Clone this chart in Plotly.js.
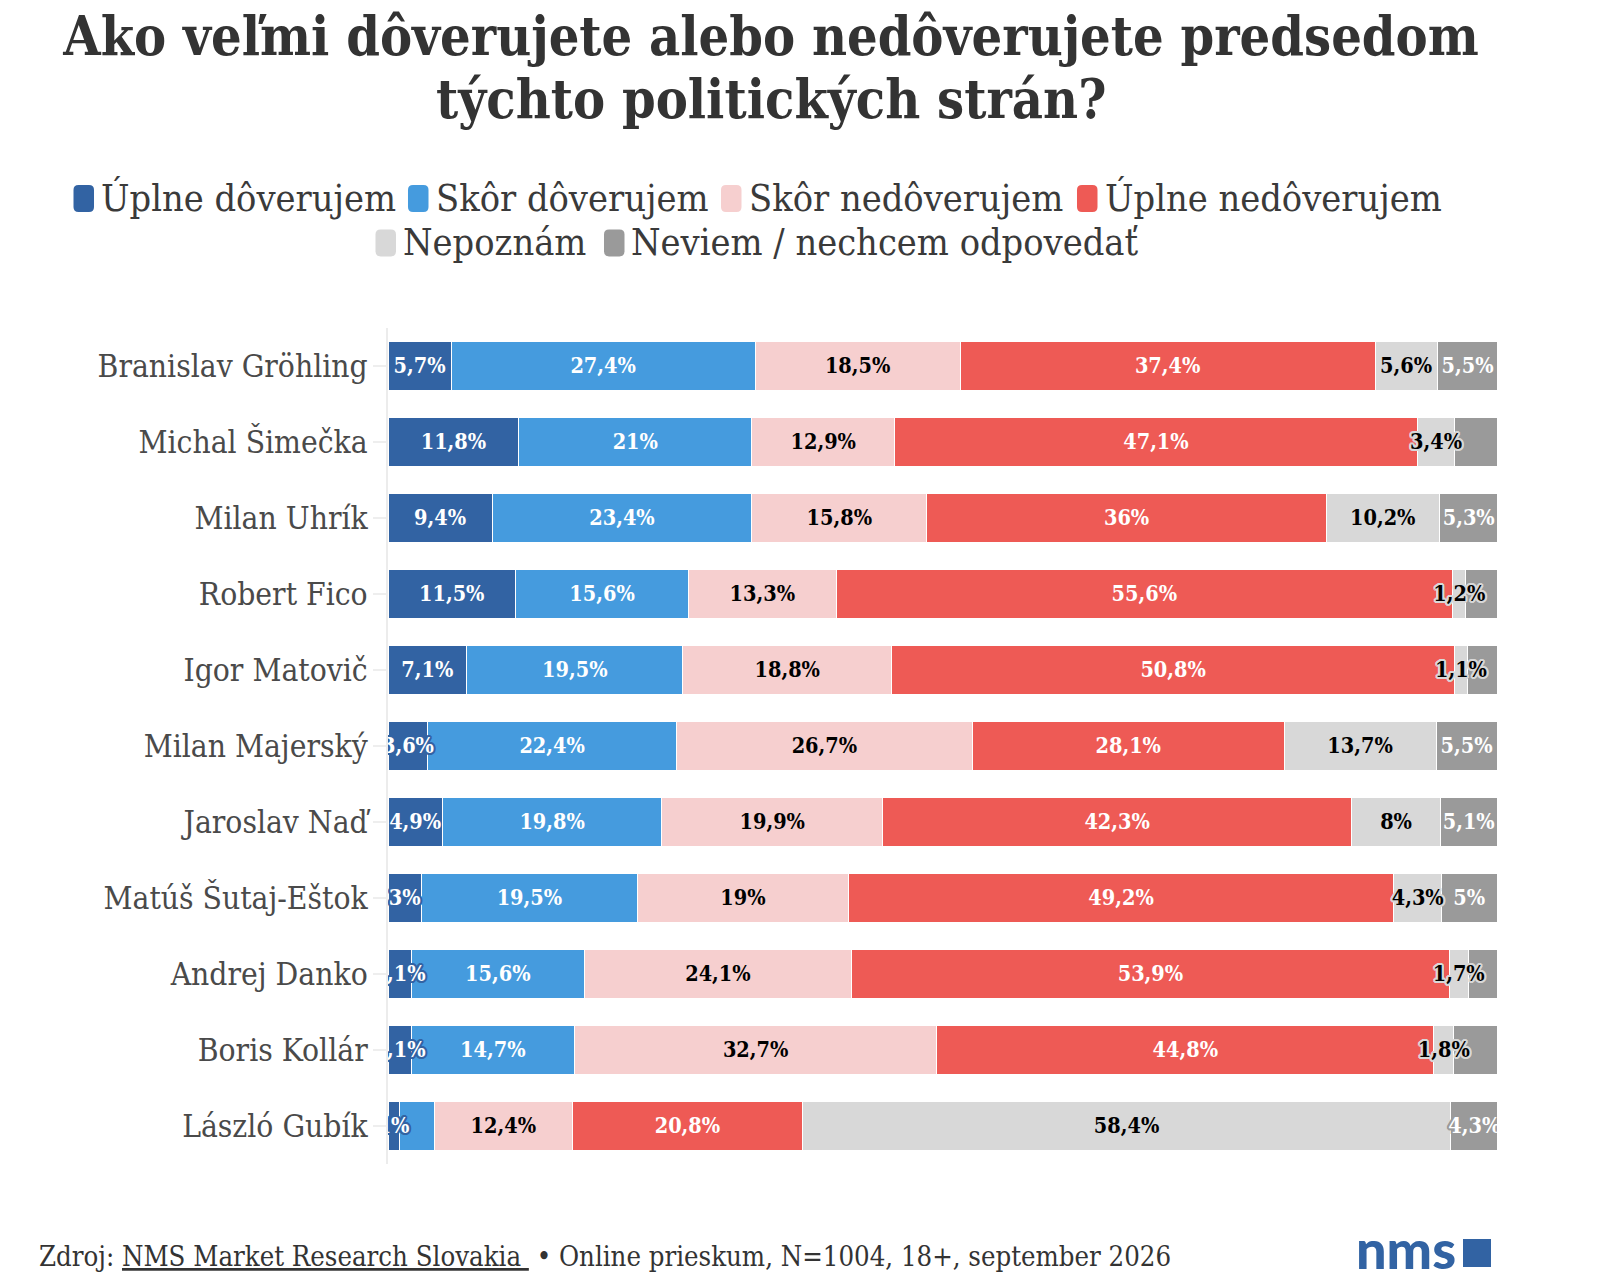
<!DOCTYPE html>
<html><head><meta charset="utf-8">
<script src="https://cdn.plot.ly/plotly-3.0.1.min.js"></script>
<style>html,body{margin:0;padding:0;background:#fff}#c{width:1600px;height:1282px}</style>
</head><body><div id="c"></div>
<script>
const FONT = '"DejaVu Serif Condensed","DejaVu Serif",serif';
const titleLine1 = 'Ako veľmi dôverujete alebo nedôverujete predsedom';
const titleLine2 = 'týchto politických strán?';
const sourceText = 'Zdroj: <span style="text-decoration:underline">NMS Market Research Slovakia </span> • Online prieskum, N=1004, 18+, september 2026';
const categories = ['Branislav Gröhling','Michal Šimečka','Milan Uhrík','Robert Fico','Igor Matovič','Milan Majerský','Jaroslav Naď','Matúš Šutaj-Eštok','Andrej Danko','Boris Kollár','László Gubík'];
const seriesNames = ['Úplne dôverujem','Skôr dôverujem','Skôr nedôverujem','Úplne nedôverujem','Nepoznám','Neviem / nechcem odpovedať'];
const uplneDoverujem   = [5.7,11.8,9.4,11.5,7.1,3.6,4.9,3,2.1,2.1,1];
const skorDoverujem    = [27.4,21,23.4,15.6,19.5,22.4,19.8,19.5,15.6,14.7,3.2];
const skorNedoverujem  = [18.5,12.9,15.8,13.3,18.8,26.7,19.9,19,24.1,32.7,12.4];
const uplneNedoverujem = [37.4,47.1,36,55.6,50.8,28.1,42.3,49.2,53.9,44.8,20.8];
const nepoznam         = [5.6,3.4,10.2,1.2,1.1,13.7,8,4.3,1.7,1.8,58.4];
const neviem           = [5.5,3.8,5.3,2.8,2.7,5.5,5.1,5,2.6,3.9,4.3];
const seriesValues = [uplneDoverujem,skorDoverujem,skorNedoverujem,uplneNedoverujem,nepoznam,neviem];
const seriesColors = ['#3263A3','#459BDE','#F6CFCF','#EE5A55','#D8D8D8','#9A9A9A'];
const labelColors  = ['#fff','#fff','#000','#fff','#000','#fff'];

const halo = c => [[-2,-1],[2,-1],[-2,1],[2,1],[-1,-2],[1,-2],[-1,2],[1,2],[-2,0],[2,0],[0,-2],[0,2]].map(p=>p[0]+'px '+p[1]+'px 0 '+c).join(',');
const bars = seriesValues.map((vals,i)=>({
  type:'bar', orientation:'h', name:seriesNames[i], y:categories, x:vals,
  marker:{color:seriesColors[i], line:{color:'#fff',width:1}},
  hoverinfo:'x+y+name', showlegend:false
}));
const running = categories.map(()=>0);
const labels = seriesValues.map((vals,i)=>{
  const mids = vals.map((v,k)=>{const m=running[k]+v/2; running[k]+=v; return m;});
  return {
    type:'scatter', mode:'text', yaxis:'y2', y:categories, x:mids, showlegend:false, hoverinfo:'skip',
    text:vals.map(v=>((i===1||i===5)&&v<4)?'':String(v).replace('.',',')+'%'),
    textposition:'middle center',
    textfont:{family:FONT,size:21.5,weight:600,color:labelColors[i],shadow:vals.map(v=>v<4.5?halo(seriesColors[i]):'none')}
  };
});

const PL=388, PW=1109, PT=328, PH=836;
const X=a=>(a-PL)/PW, Y=a=>1-(a-PT)/PH;
const legendItems = [
  {s:73.5,t:99,y:198.5},{s:408,t:434,y:198.5},{s:721,t:747,y:198.5},{s:1077,t:1103,y:198.5},
  {s:375.5,t:401,y:243},{s:604,t:629,y:243}
];
const rr=(x,y,w,h,r)=>{const f=a=>X(a).toFixed(5),g=a=>Y(a).toFixed(5);
  return `M${f(x+r)},${g(y)}L${f(x+w-r)},${g(y)}Q${f(x+w)},${g(y)} ${f(x+w)},${g(y+r)}L${f(x+w)},${g(y+h-r)}Q${f(x+w)},${g(y+h)} ${f(x+w-r)},${g(y+h)}L${f(x+r)},${g(y+h)}Q${f(x)},${g(y+h)} ${f(x)},${g(y+h-r)}L${f(x)},${g(y+r)}Q${f(x)},${g(y)} ${f(x+r)},${g(y)}Z`;};
const shapes = legendItems.map((l,i)=>({type:'path',xref:'paper',yref:'paper',path:rr(l.s,l.y-13.5,20.5,27,5),fillcolor:seriesColors[i],line:{width:0},layer:'above'}));
shapes.push({type:'rect',xref:'paper',yref:'paper',x0:X(1463),x1:X(1491),y0:Y(1267),y1:Y(1239),fillcolor:'#3263A3',line:{width:0}});
const annotations = legendItems.map((l,i)=>({xref:'paper',yref:'paper',x:X(l.t),y:Y(l.y-1),xanchor:'left',yanchor:'middle',showarrow:false,text:seriesNames[i],font:{family:FONT,size:37.6,color:'#3a3a3a'}}));
annotations.push({xref:'paper',yref:'paper',x:X(37),y:Y(1256),xanchor:'left',yanchor:'middle',showarrow:false,text:sourceText,font:{family:FONT,size:27.3,color:'#333'}});
annotations.push({xref:'paper',yref:'paper',x:X(1405.5),y:Y(1248),xanchor:'center',yanchor:'middle',showarrow:false,text:'nms',font:{family:'Lato',size:54,weight:900,color:'#3263A3'}});
annotations.push({xref:'paper',yref:'paper',x:X(771),y:Y(99),xanchor:'center',yanchor:'middle',showarrow:false,text:'<b>'+titleLine2+'</b>',font:{family:FONT,size:53.6,color:'#333'}});

const yBase = {type:'category',categoryorder:'array',categoryarray:categories,fixedrange:true};
Plotly.newPlot('c',bars.concat(labels),{
  width:1600,height:1282,barmode:'stack',bargap:0.36,
  title:{text:'<b>'+titleLine1+'</b>',x:771/1600,xanchor:'center',xref:'container',y:1-36/1282,yanchor:'middle',yref:'container',font:{family:FONT,size:53.6,color:'#333'}},
  paper_bgcolor:'#fff',plot_bgcolor:'#fff',showlegend:false,
  margin:{l:PL,r:1600-PL-PW,t:PT,b:1282-PT-PH,pad:0},
  xaxis:{range:[0,100],visible:false,fixedrange:true},
  yaxis:Object.assign({},yBase,{range:[10.5,-0.5],
    showline:true,linecolor:'#ececec',linewidth:2,ticks:'outside',ticklen:13,tickwidth:1.5,tickcolor:'#eeeeee',
    ticklabelstandoff:-1,showgrid:false,tickfont:{family:FONT,size:31.5,color:'#4a4a4a'}}),
  yaxis2:Object.assign({},yBase,{overlaying:'y',visible:false,range:[10.48,-0.52]}),
  shapes,annotations
},{displayModeBar:false,staticPlot:true});
</script></body></html>
